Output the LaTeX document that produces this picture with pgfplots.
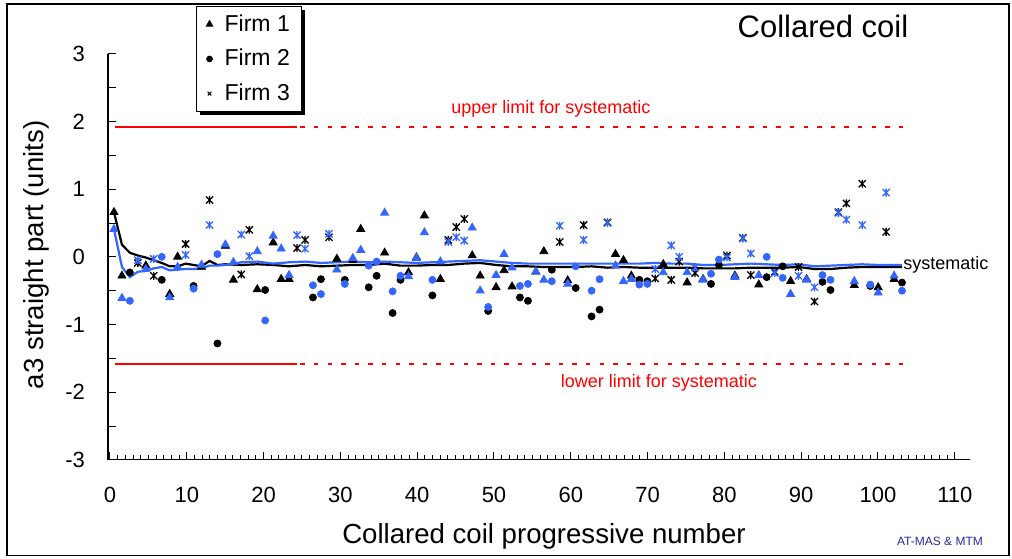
\documentclass[border=0pt]{standalone}
\usepackage{fontspec}
\setmainfont{Liberation Sans}
\usepackage{pgfplots}
\pgfplotsset{compat=1.18}
\usepackage{pgfplotstable}
\usetikzlibrary{shadows}
\definecolor{myblue}{RGB}{51,102,255}
\definecolor{sigblue}{RGB}{40,40,160}
\pgfdeclareplotmark{xstar}{%
  \pgfpathmoveto{\pgfqpoint{-\pgfplotmarksize}{-\pgfplotmarksize}}%
  \pgfpathlineto{\pgfqpoint{\pgfplotmarksize}{\pgfplotmarksize}}%
  \pgfpathmoveto{\pgfqpoint{-\pgfplotmarksize}{\pgfplotmarksize}}%
  \pgfpathlineto{\pgfqpoint{\pgfplotmarksize}{-\pgfplotmarksize}}%
  \pgfpathmoveto{\pgfqpoint{0pt}{-1.1\pgfplotmarksize}}%
  \pgfpathlineto{\pgfqpoint{0pt}{1.1\pgfplotmarksize}}%
  \pgfusepathqstroke}

% Firm 1 (triangles): x, black series (k), blue series (b)
\pgfplotstableread{
x k b
0.52 0.66 0.41
1.56 -0.28 -0.61
4.67 -0.13 -0.18
7.78 -0.55 -0.60
8.81 0.00 -0.15
11.92 -0.15 -0.12
15.03 0.16 0.18
16.07 -0.34 -0.08
19.18 -0.48 0.08
21.25 0.21 0.31
22.29 -0.33 0.12
23.32 -0.33 -0.27
29.54 -0.03 -0.19
31.62 -0.05 -0.02
32.65 0.41 0.10
35.76 0.06 0.65
38.87 -0.23 -0.29
39.91 -0.01 -0.02
40.94 0.61 0.36
43.02 -0.33 -0.07
47.16 0.02 0.43
48.20 -0.28 -0.50
50.27 -0.45 -0.27
51.31 -0.20 0.04
52.35 -0.44 -0.16
55.45 -0.22 -0.22
56.49 0.08 -0.34
59.60 -0.35 -0.40
65.82 0.04 -0.13
66.86 -0.05 -0.36
67.89 -0.28 -0.33
72.04 -0.11 -0.23
75.15 -0.38 -0.23
77.22 -0.33 -0.34
81.37 -0.28 -0.30
84.48 -0.41 -0.27
88.62 -0.36 -0.55
90.70 -0.33 -0.34
96.91 -0.42 -0.36
100.02 -0.45 -0.53
102.10 -0.33 -0.28
}\firmA
% Firm 2 (circles)
\pgfplotstableread{
x k b
2.59 -0.23 -0.65
6.74 -0.34 0.00
10.89 -0.43 -0.47
13.99 -1.28 0.04
20.21 -0.49 -0.94
26.43 -0.60 -0.42
27.47 -0.33 -0.55
30.58 -0.34 -0.40
33.69 -0.45 -0.13
34.72 -0.28 -0.07
36.80 -0.83 -0.51
37.83 -0.34 -0.28
41.98 -0.57 -0.34
49.24 -0.80 -0.74
53.38 -0.60 -0.43
54.42 -0.65 -0.40
57.53 -0.19 -0.36
60.64 -0.46 -0.14
62.71 -0.88 -0.50
63.75 -0.78 -0.33
68.93 -0.34 -0.41
69.97 -0.36 -0.40
78.26 -0.40 -0.25
79.29 -0.12 -0.04
85.51 -0.30 0.00
87.59 -0.14 -0.31
92.77 -0.37 -0.27
93.81 -0.49 -0.34
98.99 -0.43 -0.41
103.13 -0.38 -0.50
}\firmB
% Firm 3 (stars)
\pgfplotstableread{
x k b
3.63 -0.09 -0.05
5.70 -0.28 -0.03
9.85 0.19 0.03
12.96 0.84 0.47
17.10 -0.26 0.33
18.14 0.40 0.01
24.36 0.13 0.32
25.40 0.25 0.12
28.51 0.29 0.34
44.05 0.25 0.22
45.09 0.44 0.29
46.13 0.56 0.24
58.56 0.22 0.46
61.67 0.47 0.25
64.78 0.51 0.50
71.00 -0.32 -0.18
73.08 -0.34 0.17
74.11 -0.07 0.00
76.18 -0.24 -0.16
80.33 0.02 -0.01
82.40 0.28 0.27
83.44 -0.27 0.05
86.55 -0.22 -0.24
89.66 -0.15 -0.28
91.73 -0.66 -0.45
94.84 0.66 0.65
95.88 0.79 0.55
97.95 1.08 0.47
101.06 0.37 0.95
}\firmC
% systematic (running) lines
\pgfplotstableread{
x k b
0.52 0.66 0.41
1.56 0.18 -0.15
2.59 0.06 -0.30
3.63 0.02 -0.22
4.67 -0.01 -0.21
5.70 -0.05 -0.17
6.74 -0.09 -0.15
7.78 -0.14 -0.20
8.81 -0.14 -0.19
9.85 -0.10 -0.18
10.89 -0.12 -0.18
11.92 -0.14 -0.17
12.96 -0.06 -0.13
13.99 -0.12 -0.13
15.03 -0.11 -0.12
17.10 -0.12 -0.08
19.18 -0.11 -0.07
21.25 -0.12 -0.10
23.32 -0.14 -0.08
25.40 -0.12 -0.07
27.47 -0.14 -0.09
29.54 -0.13 -0.08
31.62 -0.12 -0.07
33.69 -0.12 -0.08
35.76 -0.10 -0.07
37.83 -0.13 -0.08
39.91 -0.13 -0.09
41.98 -0.12 -0.08
44.05 -0.12 -0.07
46.13 -0.10 -0.06
48.20 -0.09 -0.05
50.27 -0.12 -0.07
52.35 -0.14 -0.09
54.42 -0.14 -0.10
56.49 -0.15 -0.10
58.56 -0.15 -0.10
60.64 -0.15 -0.10
62.71 -0.14 -0.10
64.78 -0.16 -0.10
66.86 -0.15 -0.10
68.93 -0.16 -0.10
71.00 -0.16 -0.09
73.08 -0.16 -0.10
75.15 -0.16 -0.10
77.22 -0.17 -0.12
79.29 -0.17 -0.12
81.37 -0.17 -0.11
83.44 -0.16 -0.10
85.51 -0.16 -0.11
87.59 -0.16 -0.12
89.66 -0.15 -0.11
91.73 -0.18 -0.14
93.81 -0.18 -0.13
95.88 -0.16 -0.12
97.95 -0.15 -0.11
100.02 -0.15 -0.12
103.13 -0.15 -0.12
}\syst

\begin{document}
\begin{tikzpicture}
\begin{axis}[
  scale only axis, width=431.1pt, height=203pt,
  xmin=-0.26, xmax=112, ymin=-3, ymax=3,
  axis x line=bottom, axis y line=left,
  axis line style={-, line width=0.6pt, black},
  tick align=inside,
  xtick={0,10,...,110}, minor x tick num=9,
  ytick={-3,-2.5,...,3},
  yticklabels={-3,,-2,,-1,,0,,1,,2,,3},
  major tick length=3.8pt, minor tick length=2.2pt,
  tick style={line width=0.5pt, black},
  /pgf/number format/assume math mode=true,
  ticklabel style={font=\fontsize{11}{13}\selectfont},
  xticklabel style={yshift=-10pt},
  yticklabel style={xshift=-8pt},
  xlabel={Collared coil progressive number},
  ylabel={a3 straight part (units)},
  label style={font=\fontsize{13.8}{16}\selectfont},
  xlabel style={at={(axis description cs:0.5057,-0.1897)}, anchor=center},
  ylabel style={at={(axis description cs:-0.0835,0.505)}, anchor=center, rotate=0},
  clip=false,
  legend style={at={(axis description cs:0.102,1.118)}, anchor=north west,
    draw=black, line width=0.5pt, fill=white,
    drop shadow={shadow xshift=1.6pt, shadow yshift=-1.6pt, fill=black, opacity=1},
    font=\fontsize{11.5}{13}\selectfont,
    inner xsep=5pt, inner ysep=3pt, row sep=5.5pt, column sep=5pt,
    nodes={inner sep=1pt}},
  legend cell align=left,
  legend image code/.code={\draw[#1] plot coordinates {(0pt,0pt)};},
]
% frame and bounding box
\path (axis cs:-14.32,-4.461) rectangle (axis cs:117.45,3.796);
\draw[line width=0.6pt, black] (axis cs:-13.41,-4.417) rectangle (axis cs:117.06,3.737);

\addlegendimage{only marks, mark=triangle*, mark size=1.8pt, black}
\addlegendentry{Firm 1}
\addlegendimage{only marks, mark=*, mark size=1.4pt, black}
\addlegendentry{Firm 2}
\addlegendimage{only marks, mark=x, mark size=1.3pt, black, line width=0.5pt}
\addlegendentry{Firm 3}

% limits for systematic
\addplot[forget plot, red, line width=1pt] coordinates {(0.65,1.92) (24.3,1.92)};
\addplot[forget plot, red, line width=1pt, dash pattern=on 2.2pt off 4.6pt] coordinates {(24.8,1.92) (103.6,1.92)};
\addplot[forget plot, red, line width=1pt] coordinates {(0.65,-1.58) (24.3,-1.58)};
\addplot[forget plot, red, line width=1pt, dash pattern=on 2.2pt off 4.6pt] coordinates {(24.8,-1.58) (103.6,-1.58)};

% systematic lines
\addplot[forget plot, black, line width=1.1pt, no marks] table[x=x, y=k] {\syst};
\addplot[forget plot, myblue, line width=1.1pt, no marks] table[x=x, y=b] {\syst};

% black points
\addplot[forget plot, only marks, mark=triangle*, mark size=2.3pt, black] table[x=x, y=k] {\firmA};
\addplot[forget plot, only marks, mark=*, mark size=1.75pt, black] table[x=x, y=k] {\firmB};
\addplot[forget plot, only marks, mark=xstar, mark size=1.8pt, black, line width=0.65pt] table[x=x, y=k] {\firmC};
% blue points
\addplot[forget plot, only marks, mark=triangle*, mark size=2.3pt, myblue] table[x=x, y=b] {\firmA};
\addplot[forget plot, only marks, mark=*, mark size=1.75pt, myblue] table[x=x, y=b] {\firmB};
\addplot[forget plot, only marks, mark=xstar, mark size=1.8pt, myblue, line width=0.65pt] table[x=x, y=b] {\firmC};

% texts
\node[red, font=\fontsize{9}{11}\selectfont] at (axis cs:57.42,2.186) {upper limit for systematic};
\node[red, font=\fontsize{9}{11}\selectfont] at (axis cs:71.48,-1.861) {lower limit for systematic};
\node[anchor=west, inner sep=0pt, font=\fontsize{9}{11}\selectfont] at (axis cs:103.26,-0.118) {systematic};
\node[font=\fontsize{15.5}{18}\selectfont] at (axis cs:92.84,3.412) {Collared coil};
\node[sigblue, font=\fontsize{6}{7}\selectfont] at (axis cs:108.07,-4.21) {AT-MAS \& MTM};
\end{axis}
\end{tikzpicture}
\end{document}
